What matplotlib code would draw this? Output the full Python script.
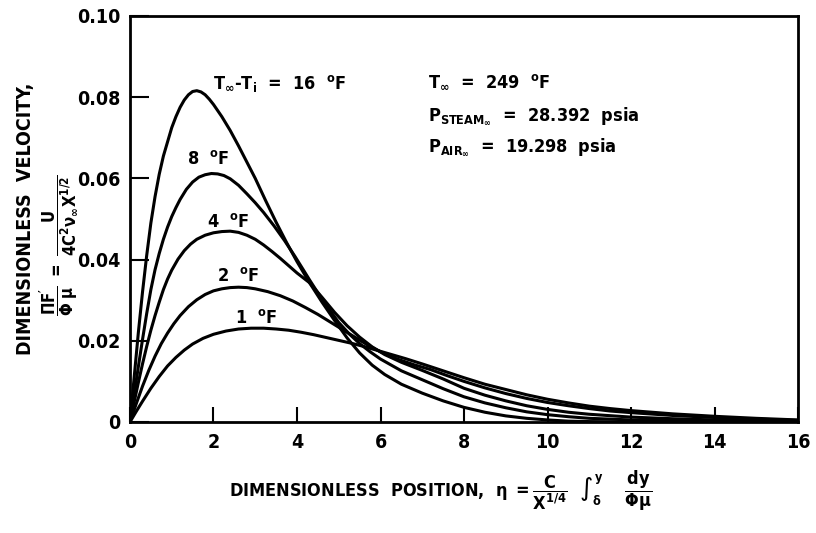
import matplotlib
matplotlib.use("Agg")
import matplotlib.pyplot as plt

plt.rcParams['font.family'] = ['DejaVu Sans']
plt.rcParams['font.stretch'] = 'condensed'
plt.rcParams['font.weight'] = 'bold'
plt.rcParams['mathtext.default'] = 'regular'
plt.rcParams['mathtext.fontset'] = 'dejavusans'

# curves: eta, dimensionless velocity
eta_16 = [0, 0.1, 0.2, 0.3, 0.4, 0.5, 0.6, 0.7, 0.8, 0.9, 1.0, 1.1, 1.2, 1.3, 1.4, 1.5,
          1.6, 1.7, 1.8, 1.9, 2.0, 2.2, 2.4, 2.6, 2.8, 3.0, 3.25, 3.5, 3.75, 4.0, 4.3,
          4.6, 4.9, 5.2, 5.5, 5.8, 6.1, 6.5, 7.0, 7.5, 8.0, 8.5, 9.0, 9.5, 10.0, 10.5,
          11.0, 12.0, 16.0]
vel_16 = [0, 0.011, 0.022, 0.032, 0.041, 0.049, 0.0555, 0.061, 0.0655, 0.069, 0.0725,
          0.0752, 0.0775, 0.0793, 0.0806, 0.0814, 0.0816, 0.0813, 0.0806, 0.0795, 0.0782,
          0.0752, 0.0718, 0.0680, 0.0640, 0.0600, 0.0545, 0.0492, 0.0442, 0.0395, 0.0343,
          0.0295, 0.0250, 0.0207, 0.0170, 0.0140, 0.0117, 0.0093, 0.0071, 0.0052, 0.0036,
          0.0024, 0.0015, 0.0009, 0.0005, 0.0002, 0.0001, 0.0, 0.0]

eta_8 = [0, 0.1, 0.2, 0.3, 0.4, 0.5, 0.6, 0.7, 0.8, 0.9, 1.0, 1.1, 1.2, 1.35, 1.5, 1.65,
         1.8, 1.95, 2.1, 2.25, 2.4, 2.6, 2.8, 3.0, 3.2, 3.45, 3.7, 3.95, 4.15, 4.3, 4.5,
         4.75, 5.0, 5.25, 5.5, 5.75, 6.0, 6.5, 7.0, 7.5, 8.0, 8.5, 9.0, 9.5, 10.0, 10.5,
         11.0, 12.0, 13.0, 14.0, 16.0]
vel_8 = [0, 0.0068, 0.0136, 0.0203, 0.0267, 0.0326, 0.0375, 0.0415, 0.0450, 0.0480,
         0.0506, 0.0528, 0.0548, 0.0573, 0.0591, 0.0603, 0.0609, 0.0612, 0.0611, 0.0607,
         0.0599, 0.0583, 0.0562, 0.0540, 0.0516, 0.0483, 0.0447, 0.0408, 0.0375, 0.0350,
         0.0318, 0.0280, 0.0245, 0.0217, 0.0193, 0.0173, 0.0155, 0.0126, 0.0104, 0.0082,
         0.0062, 0.0047, 0.0035, 0.0025, 0.0018, 0.0013, 0.0009, 0.0005, 0.0003, 0.0002,
         0.0]

eta_4 = [0, 0.1, 0.2, 0.3, 0.4, 0.5, 0.6, 0.7, 0.8, 0.9, 1.0, 1.15, 1.3, 1.45, 1.6, 1.8,
         2.0, 2.2, 2.4, 2.6, 2.8, 3.0, 3.2, 3.4, 3.6, 3.8, 4.0, 4.3, 4.6, 4.9, 5.2, 5.5,
         5.8, 6.1, 6.5, 7.0, 7.5, 8.0, 8.5, 9.0, 9.5, 10.0, 10.5, 11.0, 12.0, 13.0, 14.0,
         15.0, 16.0]
vel_4 = [0, 0.0049, 0.0097, 0.0143, 0.0186, 0.0226, 0.0262, 0.0295, 0.0326, 0.0352,
         0.0374, 0.0401, 0.0422, 0.0438, 0.0450, 0.0460, 0.0466, 0.0469, 0.0470, 0.0467,
         0.0460, 0.0450, 0.0436, 0.0420, 0.0403, 0.0385, 0.0367, 0.0343, 0.0307, 0.0270,
         0.0237, 0.0209, 0.0185, 0.0166, 0.0147, 0.0127, 0.0106, 0.0083, 0.0066, 0.0052,
         0.0040, 0.0031, 0.0024, 0.0019, 0.0012, 0.0008, 0.0005, 0.0003, 0.0002]

eta_2 = [0, 0.15, 0.3, 0.45, 0.6, 0.75, 0.9, 1.05, 1.2, 1.4, 1.6, 1.8, 2.0, 2.2, 2.4,
         2.6, 2.8, 3.0, 3.3, 3.6, 3.9, 4.2, 4.5, 4.8, 5.1, 5.4, 5.7, 6.0, 6.4, 6.8, 7.2,
         7.6, 8.0, 8.5, 9.0, 9.5, 10.0, 10.5, 11.0, 11.5, 12.0, 13.0, 14.0, 15.0, 16.0]
vel_2 = [0, 0.0045, 0.0088, 0.0127, 0.0162, 0.0193, 0.0219, 0.0242, 0.0262, 0.0284,
         0.0301, 0.0314, 0.0323, 0.0328, 0.0331, 0.0332, 0.0331, 0.0328, 0.0321, 0.0311,
         0.0298, 0.0282, 0.0265, 0.0246, 0.0227, 0.0208, 0.0189, 0.0173, 0.0155, 0.0141,
         0.0129, 0.0114, 0.0100, 0.0084, 0.0070, 0.0058, 0.0048, 0.0040, 0.0033, 0.0027,
         0.0023, 0.0016, 0.0011, 0.0007, 0.0004]

eta_1 = [0, 0.15, 0.3, 0.5, 0.7, 0.9, 1.1, 1.3, 1.5, 1.75, 2.0, 2.3, 2.6, 2.9, 3.2, 3.5,
         3.8, 4.1, 4.4, 4.7, 5.0, 5.3, 5.6, 5.9, 6.2, 6.6, 7.0, 7.5, 8.0, 8.5, 9.0, 9.5,
         10.0, 10.5, 11.0, 11.5, 12.0, 13.0, 14.0, 15.0, 16.0]
vel_1 = [0, 0.0026, 0.0051, 0.0083, 0.0112, 0.0138, 0.0159, 0.0177, 0.0192, 0.0206,
         0.0216, 0.0224, 0.0229, 0.0231, 0.0231, 0.0229, 0.0226, 0.0221, 0.0215, 0.0208,
         0.0201, 0.0194, 0.0186, 0.0177, 0.0168, 0.0156, 0.0143, 0.0126, 0.0109, 0.0093,
         0.0080, 0.0067, 0.0056, 0.0047, 0.0039, 0.0033, 0.0028, 0.0020, 0.0014, 0.0009,
         0.0005]

x_ticks = [0, 2, 4, 6, 8, 10, 12, 14, 16]
y_ticks = [0, 0.02, 0.04, 0.06, 0.08, 0.10]
y_tick_labels = ['0', '0.02', '0.04', '0.06', '0.08', '0.10']


def main():
    fig = plt.figure(figsize=(8.16, 5.33), dpi=100)
    ax = fig.add_axes([0.1593, 0.2083, 0.8187, 0.7617])

    for xs, ys in [(eta_16, vel_16), (eta_8, vel_8), (eta_4, vel_4),
                   (eta_2, vel_2), (eta_1, vel_1)]:
        ax.plot(xs, ys, color='black', lw=2.2, solid_joinstyle='round')

    ax.set_xlim(0, 16)
    ax.set_ylim(0, 0.10)
    ax.set_xticks(x_ticks)
    ax.set_xticklabels([str(t) for t in x_ticks])
    ax.set_yticks(y_ticks)
    ax.set_yticklabels(y_tick_labels)
    ax.tick_params(axis='x', direction='in', length=11, width=1.5, pad=8, labelsize=14)
    ax.tick_params(axis='y', direction='in', length=14, width=1.5, pad=7, labelsize=14)
    for s in ax.spines.values():
        s.set_linewidth(2)

    # curve labels
    fs = 13
    ax.text(1.99, 0.0834, r'$T_{\infty}$-$T_i$  =  16  $^o$F', fontsize=fs, va='center')
    ax.text(1.36, 0.0648, r'8  $^o$F', fontsize=fs, va='center')
    ax.text(1.84, 0.0493, r'4  $^o$F', fontsize=fs, va='center')
    ax.text(2.08, 0.0360, r'2  $^o$F', fontsize=fs, va='center')
    ax.text(2.52, 0.0255, r'1  $^o$F', fontsize=fs, va='center')

    ax.text(7.14, 0.0839, r'$T_{\infty}$  =  249  $^o$F', fontsize=fs, va='center')
    ax.text(7.14, 0.0753, r'$P_{STEAM_{\infty}}$  =  28.392  psia', fontsize=fs, va='center')
    ax.text(7.14, 0.0675, r'$P_{AIR_{\infty}}$  =  19.298  psia', fontsize=fs, va='center')

    # axis titles
    fig.text(0.031, 0.59, 'DIMENSIONLESS  VELOCITY,', rotation=90, fontsize=14,
             ha='center', va='center')
    fig.text(0.072, 0.54,
             r'$\dfrac{\Pi F^{\prime}}{\Phi\ \mu}\ =\ \dfrac{U}{4C^2\nu_{\infty}X^{1/2}}$',
             rotation=90, fontsize=12, ha='center', va='center')
    fig.text(0.54, 0.08,
             r'DIMENSIONLESS  POSITION,  $\eta\ =\dfrac{C}{X^{1/4}}\ \ \int_{\delta}^{y}\ \ \ \ \dfrac{dy}{\Phi\mu}$',
             fontsize=13, ha='center', va='center')

    fig.savefig('out.png', dpi=100)


if __name__ == '__main__':
    main()
